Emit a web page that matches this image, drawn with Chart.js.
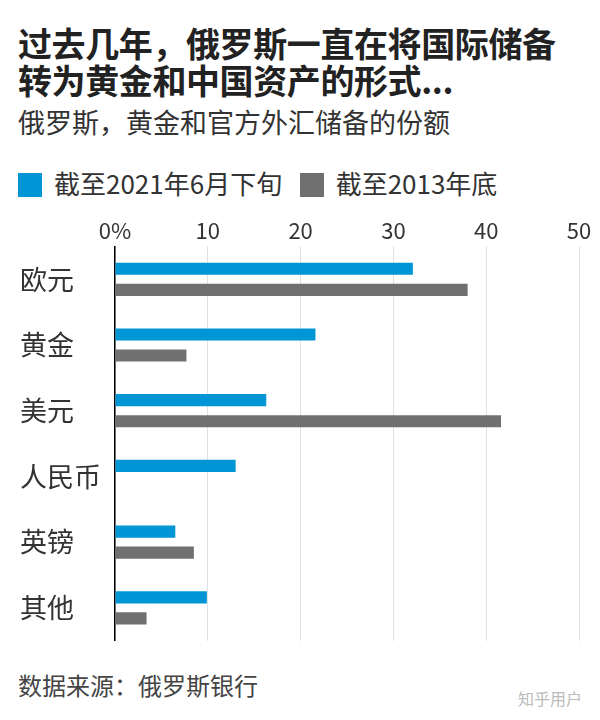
<!DOCTYPE html>
<html><head><meta charset="utf-8">
<script src="https://cdn.jsdelivr.net/npm/chart.js@4"></script>
<style>
body{margin:0;width:600px;height:720px;background:#fff;font-family:"Noto Sans CJK SC",sans-serif;position:relative;overflow:hidden;color:#222}
#t{position:absolute;left:18px;top:24px;font-size:34px;font-weight:bold;line-height:37px;color:#222;letter-spacing:-0.4px;white-space:nowrap}
#s{position:absolute;left:18px;top:102px;font-size:27px;color:#333;white-space:nowrap}
#lg{position:absolute;left:18px;top:164px;font-size:26px;color:#333;white-space:nowrap}
.sw{display:inline-block;width:24px;height:24px;vertical-align:-3px;margin-right:12px}
#src{position:absolute;left:18px;top:667px;font-size:24px;color:#444}
#wm{position:absolute;right:18px;top:686px;font-size:16px;color:#bbb}
#c{position:absolute;left:0;top:214px;width:600px;height:446px}
</style></head><body>
<div id="t">过去几年，俄罗斯一直在将国际储备<br>转为黄金和中国资产的形式...</div>
<div id="s">俄罗斯，黄金和官方外汇储备的份额</div>
<div id="lg"><span class="sw" style="background:#0096d6"></span>截至2021年6月下旬&nbsp;&nbsp;&nbsp;<span class="sw" style="background:#707070"></span>截至2013年底</div>
<div id="c"><canvas id="cv"></canvas></div>
<div id="src">数据来源：俄罗斯银行</div>
<div id="wm">知乎用户</div>
<script>
const categories=["欧元","黄金","美元","人民币","英镑","其他"];
const series2021=[32.1,21.6,16.3,13.0,6.5,9.9];
const series2013=[38.0,7.7,41.6,0,8.5,3.4];
const tickLabels=["0%","10","20","30","40","50"];
new Chart(document.getElementById('cv'),{type:'bar',
data:{labels:categories,datasets:[
{data:series2021,backgroundColor:'#0096d6'},
{data:series2013,backgroundColor:'#707070'}]},
options:{indexAxis:'y',responsive:true,maintainAspectRatio:false,animation:false,
layout:{padding:{left:20,right:21,top:0,bottom:8}},
plugins:{legend:{display:false},tooltip:{enabled:false}},
datasets:{bar:{categoryPercentage:0.64,barPercentage:0.58}},
scales:{
x:{position:'top',min:0,max:50,ticks:{stepSize:10,color:'#333',font:{size:22,family:'Noto Sans CJK SC'},callback:(v,i)=>tickLabels[i]},
grid:{color:'#dde0e4',drawTicks:false,lineWidth:1},border:{display:false}},
y:{afterFit:s=>{s.width=95},ticks:{crossAlign:'far',color:'#333',font:{size:27,family:'Noto Sans CJK SC'}},grid:{display:false},border:{color:'#000',width:1.5}}
}}});
</script></body></html>
